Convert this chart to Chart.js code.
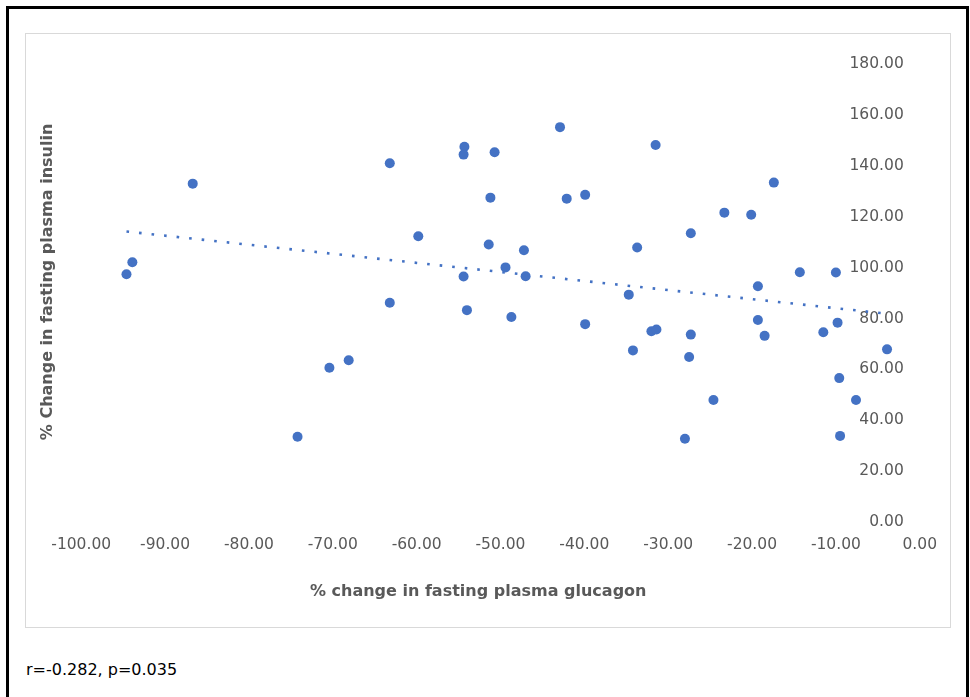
<!DOCTYPE html>
<html>
<head>
<meta charset="utf-8">
<script src="https://cdn.jsdelivr.net/npm/chart.js@4/dist/chart.umd.min.js"></script>
<style>
  body { margin: 0; background: #fff; font-family: "DejaVu Sans", Verdana, sans-serif; }
  .page { position: absolute; left: 6px; top: 6px; width: 957px; height: 700px; border: 3px solid #000; border-bottom: none; }
  .frame { position: absolute; left: 25px; top: 33px; width: 924px; height: 593px; border: 1px solid #d9d9d9; }
  .note { position: absolute; left: 26px; top: 660px; font-size: 16px; color: #000; }
</style>
</head>
<body>
<div class="page"></div>
<div class="frame"><canvas id="scatter" width="924" height="593"></canvas></div>
<div class="note">r=-0.282, p=0.035</div>

<script>
// % change in fasting plasma glucagon (x) and insulin (y)
const glucagonChange = [-94.6, -93.9, -86.7, -74.2, -70.4, -68.1, -63.2, -63.2, -59.8, -54.3,
  -54.4, -54.4, -54.0, -51.2, -51.4, -50.7, -49.4, -48.7, -47.2, -47.0,
  -42.9, -42.1, -39.9, -39.9, -34.7, -34.2, -33.7, -32.0, -31.4, -31.5,
  -28.0, -27.5, -27.3, -27.3, -24.6, -23.3, -20.1, -19.3, -19.3, -18.5,
  -17.4, -14.3, -11.5, -10.0, -9.8, -9.6, -9.5, -7.6, -3.9];
const insulinChange = [97.4, 102.1, 133.0, 33.6, 60.7, 63.6, 141.0, 86.2, 112.3, 147.5,
  144.4, 96.5, 83.3, 127.5, 109.1, 145.3, 100.1, 80.6, 106.8, 96.6,
  155.2, 127.1, 128.6, 77.8, 89.4, 67.5, 107.9, 75.0, 75.7, 148.2,
  32.8, 64.9, 113.5, 73.7, 48.0, 121.6, 120.8, 92.7, 79.4, 73.2,
  133.4, 98.2, 74.6, 98.1, 78.4, 56.6, 33.9, 48.0, 67.9];

// linear trendline end points
const trendX = [-94.6, -3.9];
const trendY = [114.2, 81.9];

const xTitle = '% change in fasting plasma glucagon';
const yTitle = '% Change in fasting plasma insulin';

const points = glucagonChange.map((x, i) => ({ x: x, y: insulinChange[i] }));
const trend = trendX.map((x, i) => ({ x: x, y: trendY[i] }));

const grey = '#595959';
const blue = '#4472C4';
const fmt = v => Number(v).toFixed(2);

new Chart(document.getElementById('scatter').getContext('2d'), {
  type: 'scatter',
  data: {
    datasets: [{
      data: trend,
      showLine: true,
      borderColor: blue,
      borderWidth: 2.6,
      borderDash: [2.6, 10],
      borderCapStyle: 'butt',
      pointRadius: 0,
      order: 0
    }, {
      data: points,
      backgroundColor: blue,
      borderColor: blue,
      pointRadius: 5,
      borderWidth: 0,
      order: 1
    }]
  },
  options: {
    responsive: false,
    animation: false,
    layout: { padding: { left: 5, right: 14, top: 30, bottom: 26 } },
    plugins: { legend: { display: false }, tooltip: { enabled: false } },
    scales: {
      x: {
        min: -100, max: 0,
        grid: { display: false, drawTicks: false },
        border: { display: false },
        ticks: { stepSize: 10, padding: 13, color: grey, font: { family: 'DejaVu Sans', size: 15.5 }, callback: fmt },
        title: {
          display: true,
          text: xTitle + '        ',
          color: grey,
          font: { family: 'DejaVu Sans', size: 16, weight: 'bold' },
          padding: { top: 15, bottom: 0 }
        }
      },
      y: {
        position: 'right',
        min: 0, max: 180,
        grid: { display: false, drawTicks: false },
        border: { display: false },
        ticks: { stepSize: 20, mirror: true, padding: -16, color: grey, font: { family: 'DejaVu Sans', size: 15.5 }, callback: fmt }
      },
      yTitle: {
        position: 'left',
        grid: { display: false, drawTicks: false },
        border: { display: false },
        ticks: { display: false },
        title: {
          display: true,
          text: '    ' + yTitle,
          color: grey,
          font: { family: 'DejaVu Sans', size: 16, weight: 'bold' },
          padding: { top: 7, bottom: 24 }
        }
      }
    }
  }
});
</script>
</body>
</html>
